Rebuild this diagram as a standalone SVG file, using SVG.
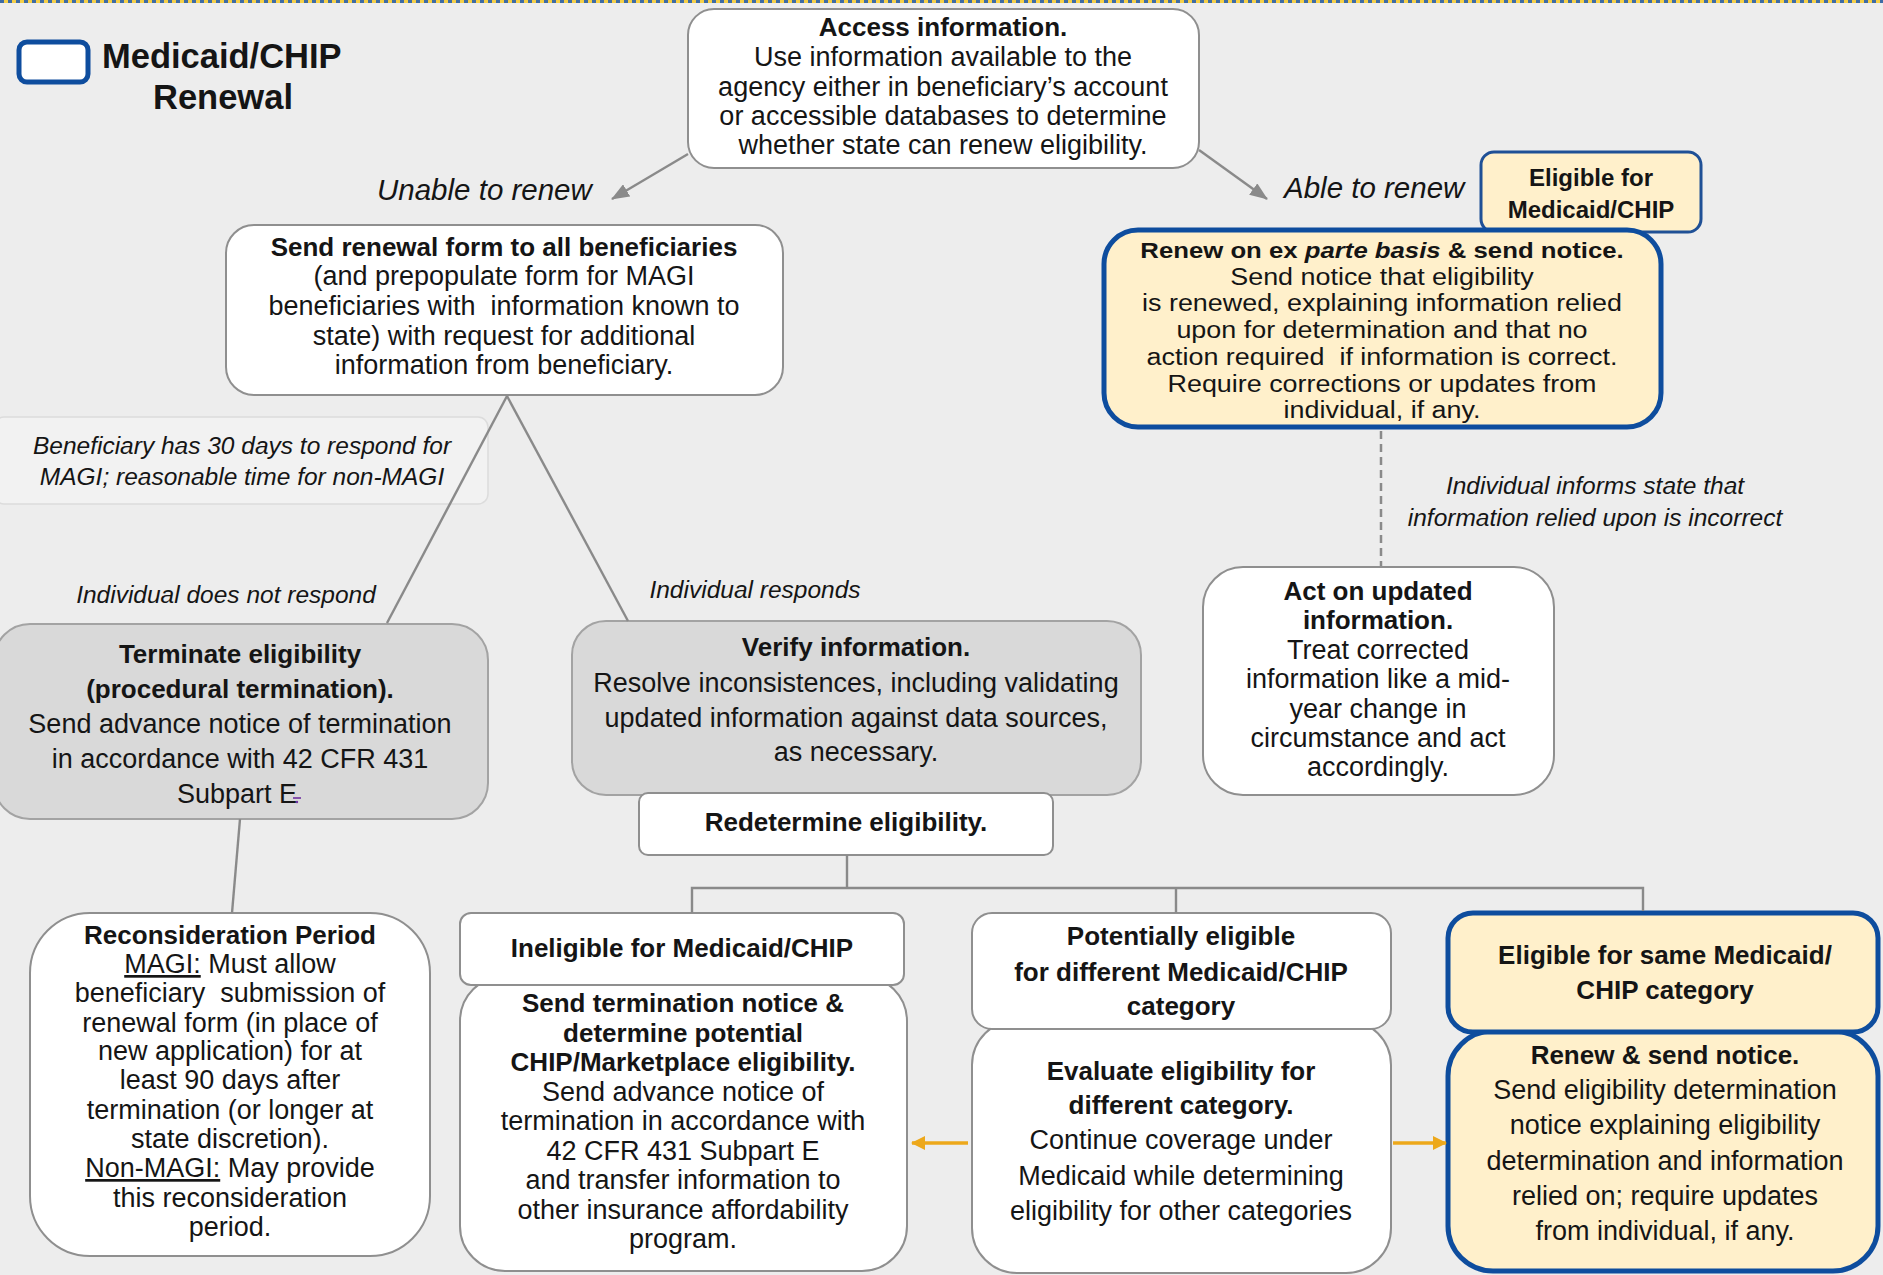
<svg xmlns="http://www.w3.org/2000/svg" width="1883" height="1275" viewBox="0 0 1883 1275">
<style>
.box{fill:#ffffff;stroke:#8f8f8f;stroke-width:2}
.gbox{fill:#d9d9d9;stroke:#a3a3a3;stroke-width:2}
.ybox{fill:#fff0cb;stroke:#0e4d9e;stroke-width:5}
.note{fill:#f2f2f2;stroke:#dcdcdc;stroke-width:1.5}
text{font-family:"Liberation Sans",Arial,sans-serif;fill:#151515}
.t{font-size:27px;text-anchor:middle}
.b{font-size:26px;font-weight:bold;text-anchor:middle}
.ts{font-size:23px;text-anchor:middle}
.bs{font-size:22px;font-weight:bold;text-anchor:middle}
.lab{font-size:24.5px;font-style:italic;text-anchor:middle}
.big{font-size:29.5px;font-style:italic}
.conn{stroke:#8a8a8a;stroke-width:2.4;fill:none}
.dash{stroke:#8a8a8a;stroke-width:2.5;fill:none;stroke-dasharray:8 5}
.oarr{stroke:#eda81b;stroke-width:3.5;fill:none}
</style>
<defs>
<marker id="ga" markerUnits="userSpaceOnUse" markerWidth="18" markerHeight="14" refX="17" refY="7" orient="auto"><path d="M0,0 L18,7 L0,14 z" fill="#8a8a8a"/></marker>
<marker id="oa" markerUnits="userSpaceOnUse" markerWidth="14" markerHeight="14" refX="13" refY="7" orient="auto"><path d="M0,0 L14,7 L0,14 z" fill="#eda81b"/></marker>
</defs>
<rect x="0" y="0" width="1883" height="1275" fill="#ededed"/>
<rect x="0" y="0" width="1883" height="3" fill="#f5cf48"/>
<line x1="0" y1="1.5" x2="1883" y2="1.5" stroke="#3d6ba5" stroke-width="3" stroke-dasharray="4 4"/>

<g id="legend">
<rect x="19" y="42" width="69" height="40" rx="8" fill="#ffffff" stroke="#0e4d9e" stroke-width="5"/>
<text x="102" y="68" style="font-size:34.5px;font-weight:bold">Medicaid/CHIP</text>
<text x="223" y="109" style="font-size:34.5px;font-weight:bold;text-anchor:middle">Renewal</text>
</g>

<g id="access">
<rect class="box" x="688" y="9" width="511" height="159" rx="26"/>
<text class="b" x="943" y="36">Access information.</text>
<text class="t" x="943" y="66">Use information available to the</text>
<text class="t" x="943" y="96">agency either in beneficiary’s account</text>
<text class="t" x="943" y="125">or accessible databases to determine</text>
<text class="t" x="943" y="154">whether state can renew eligibility.</text>
</g>

<g id="label-unable"><text class="big" x="377" y="200">Unable to renew</text></g>
<g id="label-able"><text class="big" x="1284" y="198">Able to renew</text></g>

<g id="note-30days">
<rect class="note" x="-6" y="417" width="494" height="87" rx="10"/>
<text class="lab" x="242" y="454">Beneficiary has 30 days to respond for</text>
<text class="lab" x="242" y="485">MAGI; reasonable time for non-MAGI</text>
</g>

<g id="send-renewal">
<rect class="box" x="226" y="225" width="557" height="170" rx="28"/>
<text class="b" x="504" y="256">Send renewal form to all beneficiaries</text>
<text class="t" x="504" y="285">(and prepopulate form for MAGI</text>
<text class="t" x="504" y="315">beneficiaries with&#160; information known to</text>
<text class="t" x="504" y="345">state) with request for additional</text>
<text class="t" x="504" y="374">information from beneficiary.</text>
</g>

<g id="eligible-small">
<rect x="1481" y="152" width="220" height="80" rx="13" fill="#fff0cb" stroke="#1f5096" stroke-width="3"/>
<text class="b" x="1591" y="186" style="font-size:24px">Eligible for</text>
<text class="b" x="1591" y="218" style="font-size:24px">Medicaid/CHIP</text>
</g>

<g id="renew-exparte">
<rect class="ybox" x="1104" y="230" width="557" height="197" rx="34"/>
<g transform="translate(1382,0) scale(1.17,1)">
<text class="bs" x="0" y="258">Renew on ex <tspan font-style="italic">parte basis</tspan> &amp; send notice.</text>
<text class="ts" x="0" y="285">Send notice that eligibility</text>
<text class="ts" x="0" y="311">is renewed, explaining information relied</text>
<text class="ts" x="0" y="338">upon for determination and that no</text>
<text class="ts" x="0" y="365">action required&#160; if information is correct.</text>
<text class="ts" x="0" y="392">Require corrections or updates from</text>
<text class="ts" x="0" y="418">individual, if any.</text>
</g>
</g>

<g id="label-informs">
<text class="lab" x="1595" y="494">Individual informs state that</text>
<text class="lab" x="1595" y="526">information relied upon is incorrect</text>
</g>

<g id="act-updated">
<rect class="box" x="1203" y="567" width="351" height="228" rx="40"/>
<text class="b" x="1378" y="600">Act on updated</text>
<text class="b" x="1378" y="629">information.</text>
<text class="t" x="1378" y="659">Treat corrected</text>
<text class="t" x="1378" y="688">information like a mid-</text>
<text class="t" x="1378" y="718">year change in</text>
<text class="t" x="1378" y="747">circumstance and act</text>
<text class="t" x="1378" y="776">accordingly.</text>
</g>

<g id="label-noresponse"><text class="lab" x="226" y="603">Individual does not respond</text></g>
<g id="label-responds"><text class="lab" x="755" y="598">Individual responds</text></g>

<g id="terminate">
<rect class="gbox" x="-6" y="624" width="494" height="195" rx="36"/>
<text class="b" x="240" y="663">Terminate eligibility</text>
<text class="b" x="240" y="698">(procedural termination).</text>
<text class="t" x="240" y="733">Send advance notice of termination</text>
<text class="t" x="240" y="768">in accordance with 42 CFR 431</text>
<text class="t" x="237" y="803">Subpart E</text>
<line x1="293" y1="798" x2="301" y2="798" stroke="#7030a0" stroke-width="1.6"/>
<circle cx="297" cy="802" r="1.2" fill="#7030a0"/>
</g>

<g id="verify">
<rect class="gbox" x="572" y="621" width="569" height="174" rx="34"/>
<text class="b" x="856" y="656">Verify information.</text>
<text class="t" x="856" y="692">Resolve inconsistences, including validating</text>
<text class="t" x="856" y="727">updated information against data sources,</text>
<text class="t" x="856" y="761">as necessary.</text>
</g>

<g id="redetermine">
<rect class="box" x="639" y="793" width="414" height="62" rx="9"/>
<text class="b" x="846" y="831">Redetermine eligibility.</text>
</g>

<g id="reconsideration">
<rect class="box" x="30" y="913" width="400" height="343" rx="60"/>
<text class="b" x="230" y="944">Reconsideration Period</text>
<text class="t" x="230" y="973"><tspan text-decoration="underline">MAGI:</tspan> Must allow</text>
<text class="t" x="230" y="1002">beneficiary&#160; submission of</text>
<text class="t" x="230" y="1032">renewal form (in place of</text>
<text class="t" x="230" y="1060">new application) for at</text>
<text class="t" x="230" y="1089">least 90 days after</text>
<text class="t" x="230" y="1119">termination (or longer at</text>
<text class="t" x="230" y="1148">state discretion).</text>
<text class="t" x="230" y="1177"><tspan text-decoration="underline">Non-MAGI:</tspan> May provide</text>
<text class="t" x="230" y="1207">this reconsideration</text>
<text class="t" x="230" y="1236">period.</text>
</g>

<g id="ineligible">
<rect class="box" x="460" y="976" width="447" height="295" rx="45"/>
<rect class="box" x="460" y="913" width="444" height="72" rx="11"/>
<text class="b" x="682" y="957">Ineligible for Medicaid/CHIP</text>
<text class="b" x="683" y="1012">Send termination notice &amp;</text>
<text class="b" x="683" y="1042">determine potential</text>
<text class="b" x="683" y="1071">CHIP/Marketplace eligibility.</text>
<text class="t" x="683" y="1101">Send advance notice of</text>
<text class="t" x="683" y="1130">termination in accordance with</text>
<text class="t" x="683" y="1160">42 CFR 431 Subpart E</text>
<text class="t" x="683" y="1189">and transfer information to</text>
<text class="t" x="683" y="1219">other insurance affordability</text>
<text class="t" x="683" y="1248">program.</text>
</g>

<g id="potentially">
<rect class="box" x="972" y="1020" width="419" height="253" rx="45"/>
<rect class="box" x="972" y="913" width="419" height="116" rx="20"/>
<text class="b" x="1181" y="945">Potentially eligible</text>
<text class="b" x="1181" y="981">for different Medicaid/CHIP</text>
<text class="b" x="1181" y="1015">category</text>
<text class="b" x="1181" y="1080">Evaluate eligibility for</text>
<text class="b" x="1181" y="1114">different category.</text>
<text class="t" x="1181" y="1149">Continue coverage under</text>
<text class="t" x="1181" y="1185">Medicaid while determining</text>
<text class="t" x="1181" y="1220">eligibility for other categories</text>
</g>

<g id="eligible-same">
<rect class="ybox" x="1448" y="1031" width="430" height="240" rx="45"/>
<rect class="ybox" x="1448" y="913" width="430" height="119" rx="25"/>
<text class="b" x="1665" y="964">Eligible for same Medicaid/</text>
<text class="b" x="1665" y="999">CHIP category</text>
<text class="b" x="1665" y="1064">Renew &amp; send notice.</text>
<text class="t" x="1665" y="1099">Send eligibility determination</text>
<text class="t" x="1665" y="1134">notice explaining eligibility</text>
<text class="t" x="1665" y="1170">determination and information</text>
<text class="t" x="1665" y="1205">relied on; require updates</text>
<text class="t" x="1665" y="1240">from individual, if any.</text>
</g>

<g id="connectors">
<line class="conn" x1="688" y1="154" x2="612" y2="199" marker-end="url(#ga)"/>
<line class="conn" x1="1199" y1="150" x2="1267" y2="199" marker-end="url(#ga)"/>
<line class="conn" x1="507" y1="396" x2="387" y2="623"/>
<line class="conn" x1="507" y1="396" x2="628" y2="621"/>
<line class="conn" x1="240" y1="819" x2="232" y2="913"/>
<line class="dash" x1="1381" y1="431" x2="1381" y2="566"/>
<path class="conn" d="M847,855 V888 M692,913 V888 H1643 V911 M1176,888 V913"/>
<line class="oarr" x1="968" y1="1143" x2="912" y2="1143" marker-end="url(#oa)"/>
<line class="oarr" x1="1393" y1="1143" x2="1446" y2="1143" marker-end="url(#oa)"/>
</g>
</svg>
